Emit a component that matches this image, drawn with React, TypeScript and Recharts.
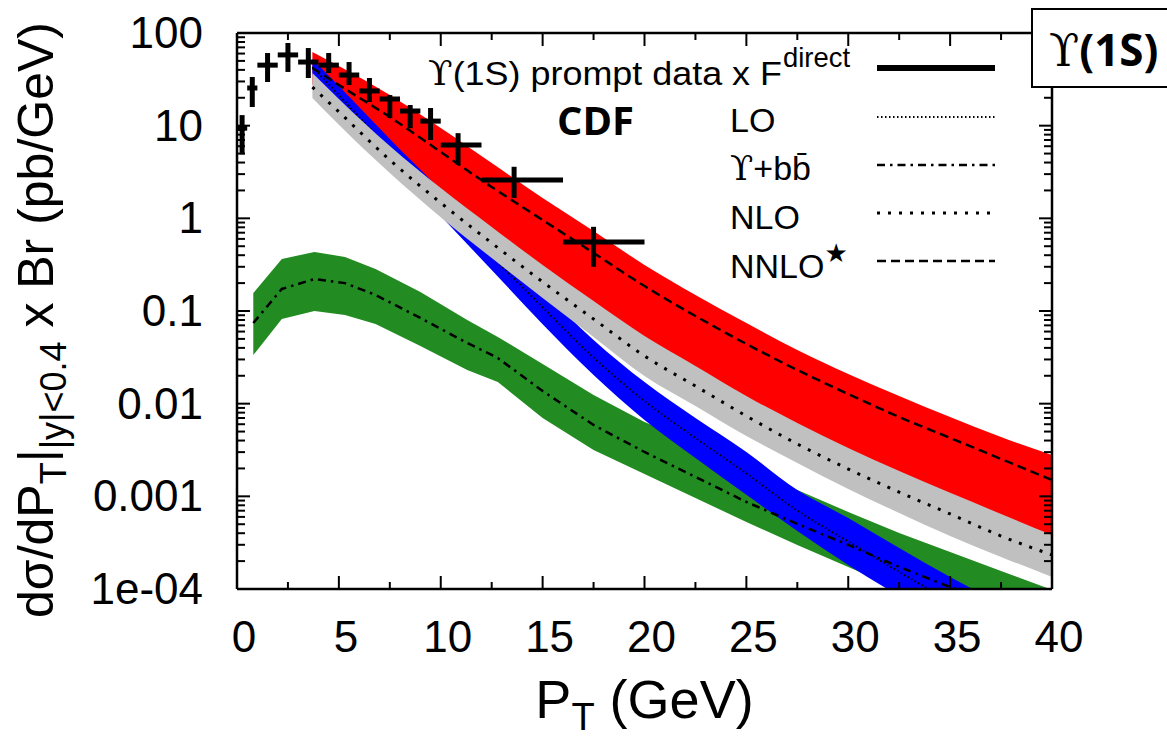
import React from "react";
import {
  ComposedChart,
  Area,
  Line,
  Scatter,
  ErrorBar,
  XAxis,
  YAxis,
  Legend,
} from "recharts";

// theory curves, pT grid (GeV)
const theoryPt = [3.7, 5, 7.5, 10, 12.5, 15, 17.5, 20, 22.5, 25, 27.5, 30, 32.5, 35, 37.5, 40];

// NNLO* (red band, dashed central)
const nnloHigh = [62.4, 44.0, 21.4, 9.44, 3.95, 1.66, 0.73, 0.314, 0.149, 0.0743, 0.038, 0.0209, 0.0121, 0.00718, 0.00437, 0.00279];
const nnloCentral = [41.9, 27.5, 12.4, 5.2, 2.18, 0.96, 0.423, 0.186, 0.0883, 0.0441, 0.0231, 0.0127, 0.00718, 0.00427, 0.00253, 0.0015];
const nnloLow = [28, 15, 4.5, 1.6, 0.6, 0.22, 0.09, 0.036, 0.017, 0.008, 0.004, 0.0021, 0.0012, 0.0007, 0.0004, 0.00026];

// NLO (grey band, dotted central)
const nloHigh = [37.0, 19.4, 6.04, 2.12, 0.807, 0.314, 0.128, 0.0537, 0.0255, 0.0121, 0.00618, 0.00333, 0.00188, 0.00109, 0.000645, 0.000383];
const nloCentral = [26.1, 14.1, 4.26, 1.47, 0.542, 0.206, 0.082, 0.0327, 0.0155, 0.00736, 0.00367, 0.00197, 0.00111, 0.000645, 0.000373, 0.000233];
const nloLow = [19.9, 10.2, 3.08, 1.03, 0.373, 0.138, 0.0525, 0.0199, 0.00944, 0.00448, 0.00229, 0.0012, 0.000661, 0.000373, 0.000222, 0.000135];

// LO (blue band, fine dotted central)
const loHigh = [52.4, 26.8, 7.18, 2.02, 0.556, 0.165, 0.0486, 0.0171, 0.007, 0.00301, 0.00117, 0.000583, 0.000277, 0.000135, 6.9e-5, 3.6e-5];
const loCentral = [43.0, 21.4, 5.46, 1.47, 0.393, 0.11, 0.0315, 0.0107, 0.00427, 0.00177, 0.000703, 0.000326, 0.000153, 7.4e-5, 3.8e-5, 1.9e-5];
const loLow = [35.2, 17.1, 4.16, 1.06, 0.277, 0.072, 0.0204, 0.00667, 0.00259, 0.00104, 0.000423, 0.000182, 8.4e-5, 4.1e-5, 2.1e-5, 1.04e-5];

// Upsilon + b bbar (green band, dash-dot central)
const bbPt = [0.8, 2.2, 3.8, 5.3, 6.8, 9, 11.3, 12.8, 15, 17.5, 20, 22.5, 25, 27.5, 30, 32.5, 35, 37.5, 40];
const bbHigh = [0.156, 0.364, 0.434, 0.383, 0.284, 0.16, 0.08, 0.0525, 0.0268, 0.0124, 0.00634, 0.00377, 0.00213, 0.00117, 0.000678, 0.000403, 0.000251, 0.000156, 9.8e-5];
const bbCentral = [0.0743, 0.173, 0.221, 0.2, 0.149, 0.0841, 0.0452, 0.0311, 0.0137, 0.00589, 0.00301, 0.00162, 0.000869, 0.000504, 0.000299, 0.000173, 0.000105, 6.6e-5, 4.2e-5];
const bbLow = [0.0335, 0.082, 0.1, 0.0906, 0.0724, 0.0419, 0.0231, 0.0171, 0.007, 0.00316, 0.00174, 0.00096, 0.000528, 0.000299, 0.000173, 1.0e-4, 5.9e-5, 3.6e-5, 2.2e-5];

// CDF prompt data x F^direct
const dataPt = [0.25, 0.75, 1.5, 2.5, 3.5, 4.5, 5.5, 6.5, 7.5, 8.5, 9.5, 10.85, 13.6, 17.5];
const binLo = [0, 0.5, 1, 2, 3, 4, 5, 6, 7, 8, 9, 10, 12, 16];
const binHi = [0.5, 1, 2, 3, 4, 5, 6, 7, 8, 9, 10, 12, 16, 20];
const dataY = [9.4, 25.5, 45, 58, 48.6, 45, 35.2, 23.7, 19.4, 14.4, 11.2, 6.2, 2.6, 0.556];
const dataYLow = [4.9, 15.9, 29.6, 38, 32.7, 37, 27.5, 18, 12.1, 9.4, 7.0, 3.8, 1.66, 0.3];
const dataYHigh = [13.0, 33.5, 60.8, 78, 68.8, 60.8, 48.6, 32.7, 21.4, 16.7, 15.5, 8.3, 3.6, 0.81];

const xTicks = [0, 2.5, 5, 7.5, 10, 12.5, 15, 17.5, 20, 22.5, 25, 27.5, 30, 32.5, 35, 37.5, 40];
const yMajor = [1e-4, 1e-3, 0.01, 0.1, 1, 10, 100];
const yTicks: number[] = [...yMajor];
for (let e = -4; e < 2; e++) {
  for (let m = 2; m < 10; m++) yTicks.push(m * Math.pow(10, e));
}

const FONT = "'Liberation Sans', Arial, sans-serif";
const BOLD = "'Open Sans', 'Noto Sans', sans-serif";
const SERIF = "'DejaVu Serif', serif";

const band = (lo: number[], hi: number[], mid: number[]) => (x: number, i: number) => ({
  x,
  band: [lo[i], hi[i]],
  mid: mid[i],
});
const nnloData = theoryPt.map(band(nnloLow, nnloHigh, nnloCentral));
const nloData = theoryPt.map(band(nloLow, nloHigh, nloCentral));
const loData = theoryPt.map(band(loLow, loHigh, loCentral));
const bbData = bbPt.map(band(bbLow, bbHigh, bbCentral));
const cdfData = dataPt.map((x, i) => ({
  x,
  y: dataY[i],
  xErr: [x - binLo[i], binHi[i] - x],
  yErr: [dataY[i] - dataYLow[i], dataYHigh[i] - dataY[i]],
}));

const isMajorY = (v: number) => Math.abs(Math.log10(v) - Math.round(Math.log10(v))) < 1e-6;
const fmtY = (v: number) => (v < 5e-4 ? "1e-04" : String(+v.toPrecision(3)));

function BottomTick(props: any) {
  const { x, y, payload } = props;
  const major = payload.value % 5 === 0;
  return (
    <g>
      <line x1={x} x2={x} y1={y} y2={y - (major ? 13 : 7)} stroke="#000" strokeWidth={2} />
      {major && (
        <text x={x + 7} y={y + 63} textAnchor="middle" fontFamily={FONT} fontSize={44} fill="#000">
          {payload.value}
        </text>
      )}
    </g>
  );
}

function TopTick(props: any) {
  const { x, y, payload } = props;
  const major = payload.value % 5 === 0;
  return <line x1={x} x2={x} y1={y} y2={y + (major ? 13 : 7)} stroke="#000" strokeWidth={2} />;
}

function LeftTick(props: any) {
  const { x, y, payload } = props;
  const major = isMajorY(payload.value);
  return (
    <g>
      <line x1={x} x2={x + (major ? 13 : 8)} y1={y} y2={y} stroke="#000" strokeWidth={2} />
      {major && (
        <text x={x - 34} y={y + 15} textAnchor="end" fontFamily={FONT} fontSize={44} fill="#000">
          {fmtY(payload.value)}
        </text>
      )}
    </g>
  );
}

function RightTick(props: any) {
  const { x, y, payload } = props;
  const major = isMajorY(payload.value);
  return <line x1={x} x2={x - (major ? 13 : 8)} y1={y} y2={y} stroke="#000" strokeWidth={2} />;
}

function XTitle(props: any) {
  const vb = props.viewBox;
  const cx = vb.x + vb.width / 2;
  const by = vb.y + 129;
  return (
    <text x={cx} y={by} textAnchor="middle" fontFamily={FONT} fontSize={54} fill="#000">
      P
      <tspan fontSize={38} dy={12}>T</tspan>
      <tspan dy={-12}>{" (GeV)"}</tspan>
    </text>
  );
}

function YTitle(props: any) {
  const vb = props.viewBox;
  const bx = vb.x + 53;
  const cy = vb.y + vb.height / 2 + 9;
  return (
    <text x={bx} y={cy} transform={`rotate(-90 ${bx} ${cy})`} textAnchor="middle" fontFamily={FONT} fontSize={50} fill="#000">
      dσ/dP
      <tspan fontSize={36} dy={13}>T</tspan>
      <tspan dy={-13}>|</tspan>
      <tspan fontSize={36} dy={13}>{"|y|<0.4"}</tspan>
      <tspan dy={-13}>{" x Br (pb/GeV)"}</tspan>
    </text>
  );
}

const NoMarker = () => <g />;

const dashNNLO = "9 5";
const dashNLO = "3 8";
const dashLO = "1.5 2.5";
const dashBB = "8 5 2.5 5";

function KeyOverlay() {
  const sx1 = 877;
  const sx2 = 995;
  return (
    <svg width={1167} height={300} style={{ display: "block" }}>
      <text x={428} y={85} fontFamily={FONT} fontSize={34} fill="#000" textLength={354} lengthAdjust="spacingAndGlyphs">
        <tspan fontFamily={SERIF}>ϒ</tspan>
        {"(1S) prompt data x F"}
      </text>
      <text x={783} y={67} fontFamily={FONT} fontSize={28} fill="#000" textLength={67} lengthAdjust="spacingAndGlyphs">
        direct
      </text>
      <line x1={sx1} x2={sx2} y1={68} y2={68} stroke="#000" strokeWidth={6} />

      <text x={730} y={132} fontFamily={FONT} fontSize={34} fill="#000">LO</text>
      <line x1={sx1} x2={sx2} y1={117} y2={117} stroke="#000" strokeWidth={2} strokeDasharray={dashLO} />

      <text x={730} y={180} fontFamily={FONT} fontSize={34} fill="#000">
        <tspan fontFamily={SERIF}>ϒ</tspan>
        {"+bb\u0304"}
      </text>
      <line x1={sx1} x2={sx2} y1={165} y2={165} stroke="#000" strokeWidth={2.5} strokeDasharray={dashBB} />

      <text x={730} y={229} fontFamily={FONT} fontSize={34} fill="#000">NLO</text>
      <line x1={sx1} x2={sx2} y1={213} y2={213} stroke="#000" strokeWidth={3} strokeDasharray={dashNLO} />

      <text x={730} y={278} fontFamily={FONT} fontSize={34} fill="#000">
        NNLO
        <tspan fontFamily="'DejaVu Sans', sans-serif" fontSize={26} dy={-16}>★</tspan>
      </text>
      <line x1={sx1} x2={sx2} y1={261} y2={261} stroke="#000" strokeWidth={2.5} strokeDasharray={dashNNLO} />

      <text x={557} y={135} fontFamily={BOLD} fontWeight={700} fontSize={40} fill="#000">CDF</text>

      <rect x={1032} y={9} width={150} height={78} fill="#fff" stroke="#000" strokeWidth={2} />
      <text x={1049} y={66} fontSize={44} fill="#000">
        <tspan fontFamily={SERIF}>ϒ</tspan>
        <tspan fontFamily={BOLD} fontWeight={700}>(1S)</tspan>
      </text>
    </svg>
  );
}

export default function App() {
  return (
    <div style={{ position: "absolute", left: 0, top: 0, background: "#fff" }}>
      <ComposedChart width={1167} height={740} margin={{ top: 32, right: 114, bottom: 1, left: 0 }}>
        <XAxis
          xAxisId="pt"
          dataKey="x"
          type="number"
          domain={[0, 40]}
          allowDataOverflow
          ticks={xTicks}
          interval={0}
          tickSize={0}
          tickMargin={0}
          tickLine={false}
          axisLine={{ stroke: "#000", strokeWidth: 2.5 }}
          tick={BottomTick}
          height={150}
          label={XTitle}
        />
        <XAxis
          xAxisId="top"
          orientation="top"
          dataKey="x"
          type="number"
          domain={[0, 40]}
          allowDataOverflow
          ticks={xTicks}
          interval={0}
          tickSize={0}
          tickMargin={0}
          tickLine={false}
          axisLine={{ stroke: "#000", strokeWidth: 2.5 }}
          tick={TopTick}
          height={1}
        />
        <YAxis
          yAxisId="val"
          type="number"
          scale="log"
          domain={[1e-4, 100]}
          allowDataOverflow
          ticks={yTicks}
          interval={0}
          tickSize={0}
          tickMargin={0}
          tickLine={false}
          axisLine={{ stroke: "#000", strokeWidth: 2.5 }}
          tick={LeftTick}
          width={237}
          label={YTitle}
        />
        <YAxis
          yAxisId="right"
          orientation="right"
          type="number"
          scale="log"
          domain={[1e-4, 100]}
          allowDataOverflow
          ticks={yTicks}
          interval={0}
          tickSize={0}
          tickMargin={0}
          tickLine={false}
          axisLine={{ stroke: "#000", strokeWidth: 2.5 }}
          tick={RightTick}
          width={1}
        />

        <Area xAxisId="pt" yAxisId="val" data={bbData} dataKey="band" type="linear" fill="#228b22" fillOpacity={1} stroke="none" dot={false} activeDot={false} isAnimationActive={false} zIndex={100} />
        <Area xAxisId="pt" yAxisId="val" data={nnloData} dataKey="band" type="monotone" fill="#ff0000" fillOpacity={1} stroke="none" dot={false} activeDot={false} isAnimationActive={false} zIndex={101} />
        <Area xAxisId="pt" yAxisId="val" data={loData} dataKey="band" type="monotone" fill="#0000ff" fillOpacity={1} stroke="none" dot={false} activeDot={false} isAnimationActive={false} zIndex={102} />
        <Line xAxisId="pt" yAxisId="val" data={loData} dataKey="mid" type="monotone" stroke="#000" strokeWidth={2} strokeDasharray={dashLO} dot={false} activeDot={false} isAnimationActive={false} zIndex={103} />
        <Area xAxisId="pt" yAxisId="val" data={nloData} dataKey="band" type="monotone" fill="#c0c0c0" fillOpacity={1} stroke="none" dot={false} activeDot={false} isAnimationActive={false} zIndex={104} />
        <Line xAxisId="pt" yAxisId="val" data={nloData} dataKey="mid" type="monotone" stroke="#000" strokeWidth={3} strokeDasharray={dashNLO} dot={false} activeDot={false} isAnimationActive={false} />
        <Line xAxisId="pt" yAxisId="val" data={bbData} dataKey="mid" type="linear" stroke="#000" strokeWidth={2.5} strokeDasharray={dashBB} dot={false} activeDot={false} isAnimationActive={false} />
        <Line xAxisId="pt" yAxisId="val" data={nnloData} dataKey="mid" type="monotone" stroke="#000" strokeWidth={2.5} strokeDasharray={dashNNLO} dot={false} activeDot={false} isAnimationActive={false} />

        <Scatter xAxisId="pt" yAxisId="val" data={cdfData} dataKey="y" shape={NoMarker} isAnimationActive={false}>
          <ErrorBar dataKey="xErr" direction="x" width={0} stroke="#000" strokeWidth={5} isAnimationActive={false} />
          <ErrorBar dataKey="yErr" direction="y" width={0} stroke="#000" strokeWidth={5} isAnimationActive={false} />
        </Scatter>

        <Legend
          layout="vertical"
          align="center"
          verticalAlign="middle"
          wrapperStyle={{ position: "absolute", left: 0, top: 0, width: 1167, height: 300 }}
          content={() => <KeyOverlay />}
        />
      </ComposedChart>
    </div>
  );
}
